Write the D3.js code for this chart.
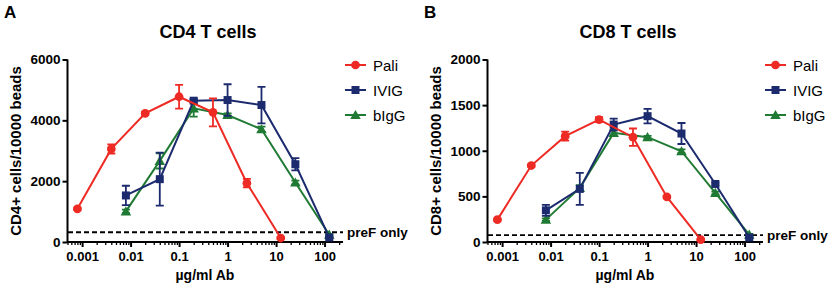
<!DOCTYPE html>
<html><head><meta charset="utf-8">
<script src="https://cdn.jsdelivr.net/npm/d3@7"></script>
<style>body{margin:0;background:#fff}svg{display:block}text{font-family:Arial,"Liberation Sans",sans-serif}</style>
</head><body><svg id="c" width="829" height="285"></svg>
<script>
// Concentrations (µg/ml)
const paliConc = [0.0008, 0.004, 0.02, 0.1, 0.5, 2.5, 12.5];
const igConc = [0.008, 0.04, 0.2, 1, 5, 25, 125];
const xTickLabels = ["0.001", "0.01", "0.1", "1", "10", "100"];

// Panel A: CD4
const cd4Pali = [1090, 3060, 4230, 4776, 4262, 1934, 131];
const cd4PaliErr = [40, 150, 50, 390, 460, 140, 30];
const cd4IVIG = [1530, 2066, 4645, 4667, 4503, 2557, 150];
const cd4IVIGErr = [320, 870, 60, 520, 600, 200, 30];
const cd4bIgG = [1005, 2667, 4393, 4175, 3705, 1956, 240];
const cd4bIgGErr = [60, 250, 270, 50, 90, 60, 30];
const cd4PreF = 320;
const cd4YTicks = [0, 2000, 4000, 6000];

// Panel B: CD8
const cd8Pali = [245, 838, 1160, 1342, 1149, 494, 26];
const cd8PaliErr = [10, 15, 50, 25, 95, 10, 5];
const cd8IVIG = [347, 582, 1287, 1379, 1189, 636, 50];
const cd8IVIGErr = [60, 175, 65, 80, 115, 15, 10];
const cd8bIgG = [245, 593, 1196, 1149, 995, 538, 80];
const cd8bIgGErr = [15, 30, 35, 15, 20, 15, 10];
const cd8PreF = 75;
const cd8YTicks = [0, 500, 1000, 1500, 2000];

const seriesNames = ["Pali", "IVIG", "bIgG"];
const colors = {Pali: "#ee2a24", IVIG: "#1c2a6e", bIgG: "#1f7a34"};
const shapes = {Pali: d3.symbolCircle, IVIG: d3.symbolSquare, bIgG: d3.symbolTriangle};
const sizes = {Pali: 60, IVIG: 64, bIgG: 48};

const panels = [
  {letter: "A", title: "CD4 T cells", ylab: "CD4+ cells/10000 beads", ymax: 6000, yticks: cd4YTicks, preF: cd4PreF,
   series: {Pali: [paliConc, cd4Pali, cd4PaliErr], IVIG: [igConc, cd4IVIG, cd4IVIGErr], bIgG: [igConc, cd4bIgG, cd4bIgGErr]}},
  {letter: "B", title: "CD8 T cells", ylab: "CD8+ cells/10000 beads", ymax: 2000, yticks: cd8YTicks, preF: cd8PreF,
   series: {Pali: [paliConc, cd8Pali, cd8PaliErr], IVIG: [igConc, cd8IVIG, cd8IVIGErr], bIgG: [igConc, cd8bIgG, cd8bIgGErr]}}
];

const svg = d3.select("#c");
panels.forEach((p, pi) => {
  const ox = pi * 420;
  const g = svg.append("g").attr("transform", `translate(${ox},0)`);
  const x = d3.scaleLog().domain([0.0005, 240]).range([67.5, 343]);
  const y = d3.scaleLinear().domain([0, p.ymax]).range([242, 59.5]);

  g.append("text").attr("x", 4).attr("y", 18).attr("font-size", 17).attr("font-weight", "bold").text(p.letter);
  g.append("text").attr("x", 208).attr("y", 38).attr("text-anchor", "middle").attr("font-size", 18).attr("font-weight", "bold").text(p.title);
  g.append("text").attr("transform", `translate(21,151) rotate(-90)`).attr("text-anchor", "middle")
    .attr("font-size", 15).attr("font-weight", "bold").text(p.ylab);

  // y axis
  const ya = g.append("g").attr("transform", "translate(67.5,0)")
    .call(d3.axisLeft(y).tickValues(p.yticks).tickSize(5).tickPadding(2).tickFormat(d3.format("d")));
  ya.select(".domain").attr("stroke-width", 2).attr("d", `M0,${y(p.ymax)}V${y(0)+1}`);
  ya.selectAll(".tick line").attr("stroke-width", 2);
  ya.selectAll("text").attr("font-size", 13.5).attr("font-weight", "bold").attr("font-family", "Arial,'Liberation Sans',sans-serif");

  // x axis: minor ticks
  const xa = g.append("g").attr("transform", "translate(0,242)");
  const minor = x.ticks().filter(v => !xTickLabels.map(Number).some(m => Math.abs(m - v) < 1e-12));
  xa.call(d3.axisBottom(x).tickValues(minor).tickSize(3).tickFormat(""));
  xa.select(".domain").attr("stroke-width", 2).attr("d", `M67.5,0H343`);
  xa.selectAll(".tick line").attr("stroke-width", 1.3);
  const xb = g.append("g").attr("transform", "translate(0,242)");
  xb.call(d3.axisBottom(x).tickValues(xTickLabels.map(Number)).tickSize(5).tickPadding(5).tickFormat((d, i) => xTickLabels[i]));
  xb.select(".domain").remove();
  xb.selectAll(".tick line").attr("stroke-width", 2);
  xb.selectAll("text").attr("font-size", 13).attr("font-weight", "bold").attr("font-family", "Arial,'Liberation Sans',sans-serif");

  g.append("text").attr("x", 205).attr("y", 280).attr("text-anchor", "middle").attr("font-size", 14).attr("font-weight", "bold").text("µg/ml Ab");

  // preF line
  g.append("line").attr("x1", 68).attr("x2", 343).attr("y1", y(p.preF)).attr("y2", y(p.preF))
    .attr("stroke", "#000").attr("stroke-width", 1.8).attr("stroke-dasharray", "5,3");
  g.append("text").attr("x", 347).attr("y", y(p.preF) + 4.5).attr("font-size", 13.5).attr("font-weight", "bold").text("preF only");

  // series
  seriesNames.slice().reverse().forEach(name => {
    const [xs, ys, es] = p.series[name];
    const pts = xs.map((c, i) => ({c, v: ys[i], e: es[i]}));
    const col = colors[name];
    g.append("path").datum(pts).attr("fill", "none").attr("stroke", col).attr("stroke-width", 2)
      .attr("d", d3.line().x(d => x(d.c)).y(d => y(d.v)));
    const eb = g.append("g").attr("stroke", col).attr("stroke-width", 1.8).attr("fill", "none");
    pts.forEach(d => {
      const cx = x(d.c), y1 = y(d.v + d.e), y2 = y(d.v - d.e);
      eb.append("path").attr("d", `M${cx},${y1}V${y2}M${cx-4},${y1}H${cx+4}M${cx-4},${y2}H${cx+4}`);
    });
    g.append("g").selectAll("path").data(pts).join("path")
      .attr("transform", d => `translate(${x(d.c)},${y(d.v) + (name === "bIgG" ? 1 : 0)})`)
      .attr("d", d3.symbol().type(shapes[name]).size(sizes[name])).attr("fill", col);
  });

  // legend
  seriesNames.forEach((name, i) => {
    const ly = 65 + i * 25;
    const col = colors[name];
    g.append("line").attr("x1", 345).attr("x2", 366).attr("y1", ly).attr("y2", ly).attr("stroke", col).attr("stroke-width", 2);
    g.append("path").attr("transform", `translate(355.5,${ly + (name === "bIgG" ? 1 : 0)})`)
      .attr("d", d3.symbol().type(shapes[name]).size(sizes[name])).attr("fill", col);
    g.append("text").attr("x", 373).attr("y", ly + 5.5).attr("font-size", 15).text(name);
  });
});
</script></body></html>
